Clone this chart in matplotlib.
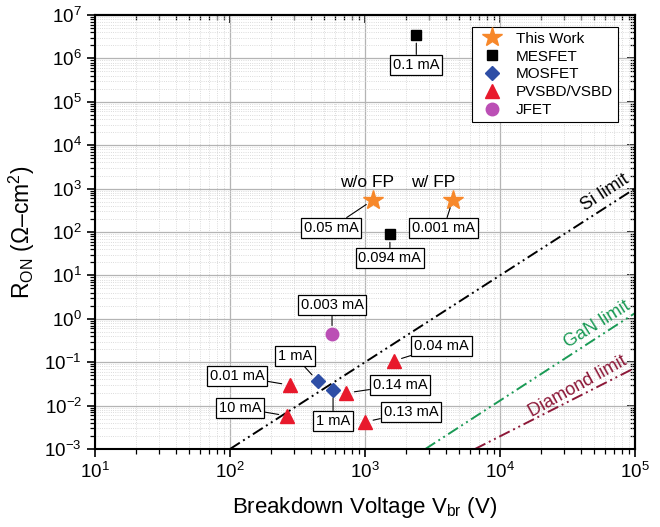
import numpy as np
import matplotlib
matplotlib.use('Agg')
import matplotlib.pyplot as plt
from matplotlib.ticker import LogLocator, NullFormatter

plt.rcParams['font.family'] = ['Liberation Sans', 'DejaVu Sans']
plt.rcParams['mathtext.fontset'] = 'custom'
plt.rcParams['mathtext.rm'] = 'Liberation Sans'
plt.rcParams['mathtext.it'] = 'Liberation Sans:italic'

# data: breakdown voltage (V), R_on (Ohm-cm^2)
star_v = [1150, 4470]
star_r = [550, 550]
star_lbl = ['0.05 mA', '0.001 mA']

mes_v = [2400, 1530]
mes_r = [3.5e6, 90]
mes_lbl = ['0.1 mA', '0.094 mA']

mos_v = [446, 580]
mos_r = [0.037, 0.023]
mos_lbl = ['1 mA', '1 mA']

tri_v = [278, 264, 725, 1000, 1630]
tri_r = [0.0296, 0.0058, 0.0195, 0.0042, 0.107]
tri_lbl = ['0.01 mA', '10 mA', '0.14 mA', '0.13 mA', '0.04 mA']

jfet_v = [570]
jfet_r = [0.45]
jfet_lbl = ['0.003 mA']

# material limit lines (end points)
si_v = [100, 1e5]
si_r = [1e-3, 1e3]
gan_v = [2800, 1e5]
gan_r = [1e-3, 1.35]
dia_v = [6530, 1e5]
dia_r = [1e-3, 0.074]

# label box offsets from their point, in pixels
star_off = [(-42, -28), (-9, -28)]
mes_off = [(0, -30), (0, -24)]
mos_off = [(-23, 25), (0, -31)]
tri_off = [(-53, 9), (-47, 8), (54, 8), (46, 10), (48, 15)]
jfet_off = [(0, 29)]

fig = plt.figure(figsize=(6.6, 5.27), dpi=100)
ax = fig.add_axes([0.144, 0.148, 0.818, 0.8235])
ax.set_xscale('log')
ax.set_yscale('log')
ax.set_xlim(10, 1e5)
ax.set_ylim(1e-3, 1e7)

ax.grid(which='major', color='#b4b4b4', lw=0.9, ls='-')
ax.grid(which='minor', color='#d0d0d0', lw=0.6, ls=':')
ax.set_axisbelow(True)

dd = (0, (6, 2, 1, 2, 1, 2))
ax.plot(si_v, si_r, color='black', lw=1.4, ls=dd)
ax.plot(gan_v, gan_r, color='#1a9a55', lw=1.4, ls=dd)
ax.plot(dia_v, dia_r, color='#8c1838', lw=1.4, ls=dd)

ax.plot(star_v, star_r, '*', color='#f7882a', ms=15, ls='none', label='This Work', zorder=5)
ax.plot(mes_v, mes_r, 's', color='black', ms=7.5, ls='none', label='MESFET', zorder=5)
ax.plot(mos_v, mos_r, 'D', color='#2e4ea6', ms=7.5, ls='none', label='MOSFET', zorder=5)
ax.plot(tri_v, tri_r, '^', color='#e8192c', ms=9.5, ls='none', label='PVSBD/VSBD', zorder=5)
ax.plot(jfet_v, jfet_r, 'o', color='#bb4fb5', ms=9, ls='none', label='JFET', zorder=5)

def tag(vs, rs, lbls, offs):
    for v, r, s, o in zip(vs, rs, lbls, offs):
        ax.annotate(s, xy=(v, r), xytext=o, textcoords='offset pixels',
                    ha='center', va='center', fontsize=10.5, zorder=6,
                    bbox=dict(boxstyle='square,pad=0.2', fc='white', ec='black', lw=0.9),
                    arrowprops=dict(arrowstyle='-', color='black', lw=0.8,
                                    shrinkA=0, shrinkB=6))

tag(star_v, star_r, star_lbl, star_off)
tag(mes_v, mes_r, mes_lbl, mes_off)
tag(mos_v, mos_r, mos_lbl, mos_off)
tag(tri_v, tri_r, tri_lbl, tri_off)
tag(jfet_v, jfet_r, jfet_lbl, jfet_off)

ax.annotate('w/o FP', xy=(star_v[0], star_r[0]), xytext=(-6, 17), textcoords='offset pixels',
            ha='center', va='center', fontsize=12.5)
ax.annotate('w/ FP', xy=(star_v[1], star_r[1]), xytext=(-20, 17), textcoords='offset pixels',
            ha='center', va='center', fontsize=12.5)

ax.text(0.944, 0.590, 'Si limit', transform=ax.transAxes, rotation=33,
        rotation_mode='anchor', ha='center', va='center', fontsize=13, color='black')
ax.text(0.930, 0.286, 'GaN limit', transform=ax.transAxes, rotation=32,
        rotation_mode='anchor', ha='center', va='center', fontsize=13, color='#1a9a55')
ax.text(0.894, 0.145, 'Diamond limit', transform=ax.transAxes, rotation=29,
        rotation_mode='anchor', ha='center', va='center', fontsize=13, color='#8c1838')

leg = ax.legend(loc='upper right', bbox_to_anchor=(0.9685, 0.972), borderaxespad=0,
                fontsize=11, fancybox=False, framealpha=1, edgecolor='black',
                handletextpad=0.6, labelspacing=0.25, borderpad=0.3)
leg.get_frame().set_linewidth(0.8)

for axis in (ax.xaxis, ax.yaxis):
    axis.set_major_locator(LogLocator(base=10, numticks=20))
    axis.set_minor_locator(LogLocator(base=10, subs=np.arange(2, 10), numticks=100))
    axis.set_minor_formatter(NullFormatter())
ax.tick_params(which='both', direction='out', labelsize=13.5, width=1.2)
ax.tick_params(which='major', length=6)
ax.tick_params(which='minor', length=3.5, width=0.9)
for sp in ax.spines.values():
    sp.set_linewidth(1.5)

# mirrored ticks on top and right, pointing inwards
top = ax.secondary_xaxis('top', functions=(lambda x: x, lambda x: x))
right = ax.secondary_yaxis('right', functions=(lambda x: x, lambda x: x))
for sec, axis in ((top, top.xaxis), (right, right.yaxis)):
    axis.set_major_locator(LogLocator(base=10, numticks=20))
    axis.set_minor_locator(LogLocator(base=10, subs=np.arange(2, 10), numticks=100))
    axis.set_major_formatter(NullFormatter())
    axis.set_minor_formatter(NullFormatter())
    sec.tick_params(which='both', direction='in', width=1.2)
    sec.tick_params(which='major', length=6)
    sec.tick_params(which='minor', length=3.5, width=0.9)
    for sp in sec.spines.values():
        sp.set_linewidth(1.5)

ax.set_xlabel(r'Breakdown Voltage V$_{\mathregular{br}}$ (V)', fontsize=16, labelpad=9)
ax.set_ylabel(r'R$_{\mathregular{ON}}$ ($\Omega$–cm$^{\mathregular{2}}$)', fontsize=16.5, labelpad=5)

fig.savefig('out.png', dpi=100)
